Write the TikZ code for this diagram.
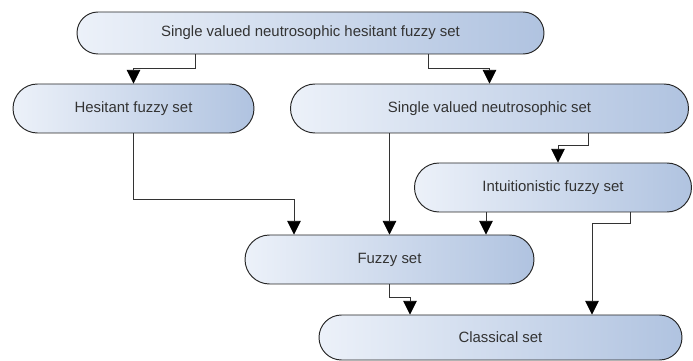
\documentclass[tikz,border=0pt]{standalone}
\usepackage{fontspec}
\setmainfont{Liberation Sans}
\usetikzlibrary{arrows.meta,shapes.misc}
\definecolor{boxlight}{RGB}{236,241,249}
\definecolor{boxdark}{RGB}{176,195,224}
\def\pxu{0.73pt}
\tikzset{
	setbox/.style={rounded rectangle, draw=black!85, line width=0.7pt, left color=boxlight, right color=boxdark, text=black!80, font=\fontsize{10.9}{13}\selectfont, inner sep=0pt},
	arr/.style={draw=black!80, line width=0.65pt, -{Triangle[width=10pt,length=10pt,color=black]}}
}

\begin{document}
\begin{tikzpicture}[x=\pxu, y=-\pxu]
		%%%%% START %%%%%
		
		\useasboundingbox (0, 0) rectangle (693, 361);
		
		\node[setbox, minimum width=467*\pxu, minimum height=42*\pxu] (svnhfs) at (310.5, 33) {Single valued neutrosophic hesitant fuzzy set};
		\node[setbox, minimum width=241*\pxu, minimum height=49*\pxu] (hfs) at (133.5, 108.5) {Hesitant fuzzy set};
		\node[setbox, minimum width=398*\pxu, minimum height=49*\pxu] (svns) at (489.5, 108.5) {Single valued neutrosophic set};
		\node[setbox, minimum width=277*\pxu, minimum height=49*\pxu] (ifs) at (553, 187.5) {Intuitionistic fuzzy set};
		\node[setbox, minimum width=289*\pxu, minimum height=49*\pxu] (fs) at (389.5, 259.5) {Fuzzy set};
		\node[setbox, minimum width=363*\pxu, minimum height=45*\pxu] (cs) at (500.5, 337.5) {Classical set};
		
		\draw[arr] ([xshift=-115.5*\pxu]svnhfs.south) -- ++(0, 14) -| (hfs.north);
		\draw[arr] ([xshift=117.5*\pxu]svnhfs.south) -- ++(0, 14) -| (svns.north);
		\draw[arr] ([xshift=98.5*\pxu]svns.south) -- ++(0, 12) -| ([xshift=5*\pxu]ifs.north);
		
		\draw[arr] (hfs.south) -- ++(0, 66) -| ([xshift=-95.5*\pxu]fs.north);
		\draw[arr] (svns.south -| fs.north) -- (fs.north);
		\draw[arr] ([xshift=96.5*\pxu]fs.north |- ifs.south) -- ([xshift=96.5*\pxu]fs.north);
		
		\draw[arr] (fs.south) -- ++(0, 13) -| ([xshift=-90.5*\pxu]cs.north);
		\draw[arr] ([xshift=77*\pxu]ifs.south) -- ++(0, 11) -| ([xshift=91.5*\pxu]cs.north);
		
		%%%%% END %%%%%
	\end{tikzpicture}
\end{document}
